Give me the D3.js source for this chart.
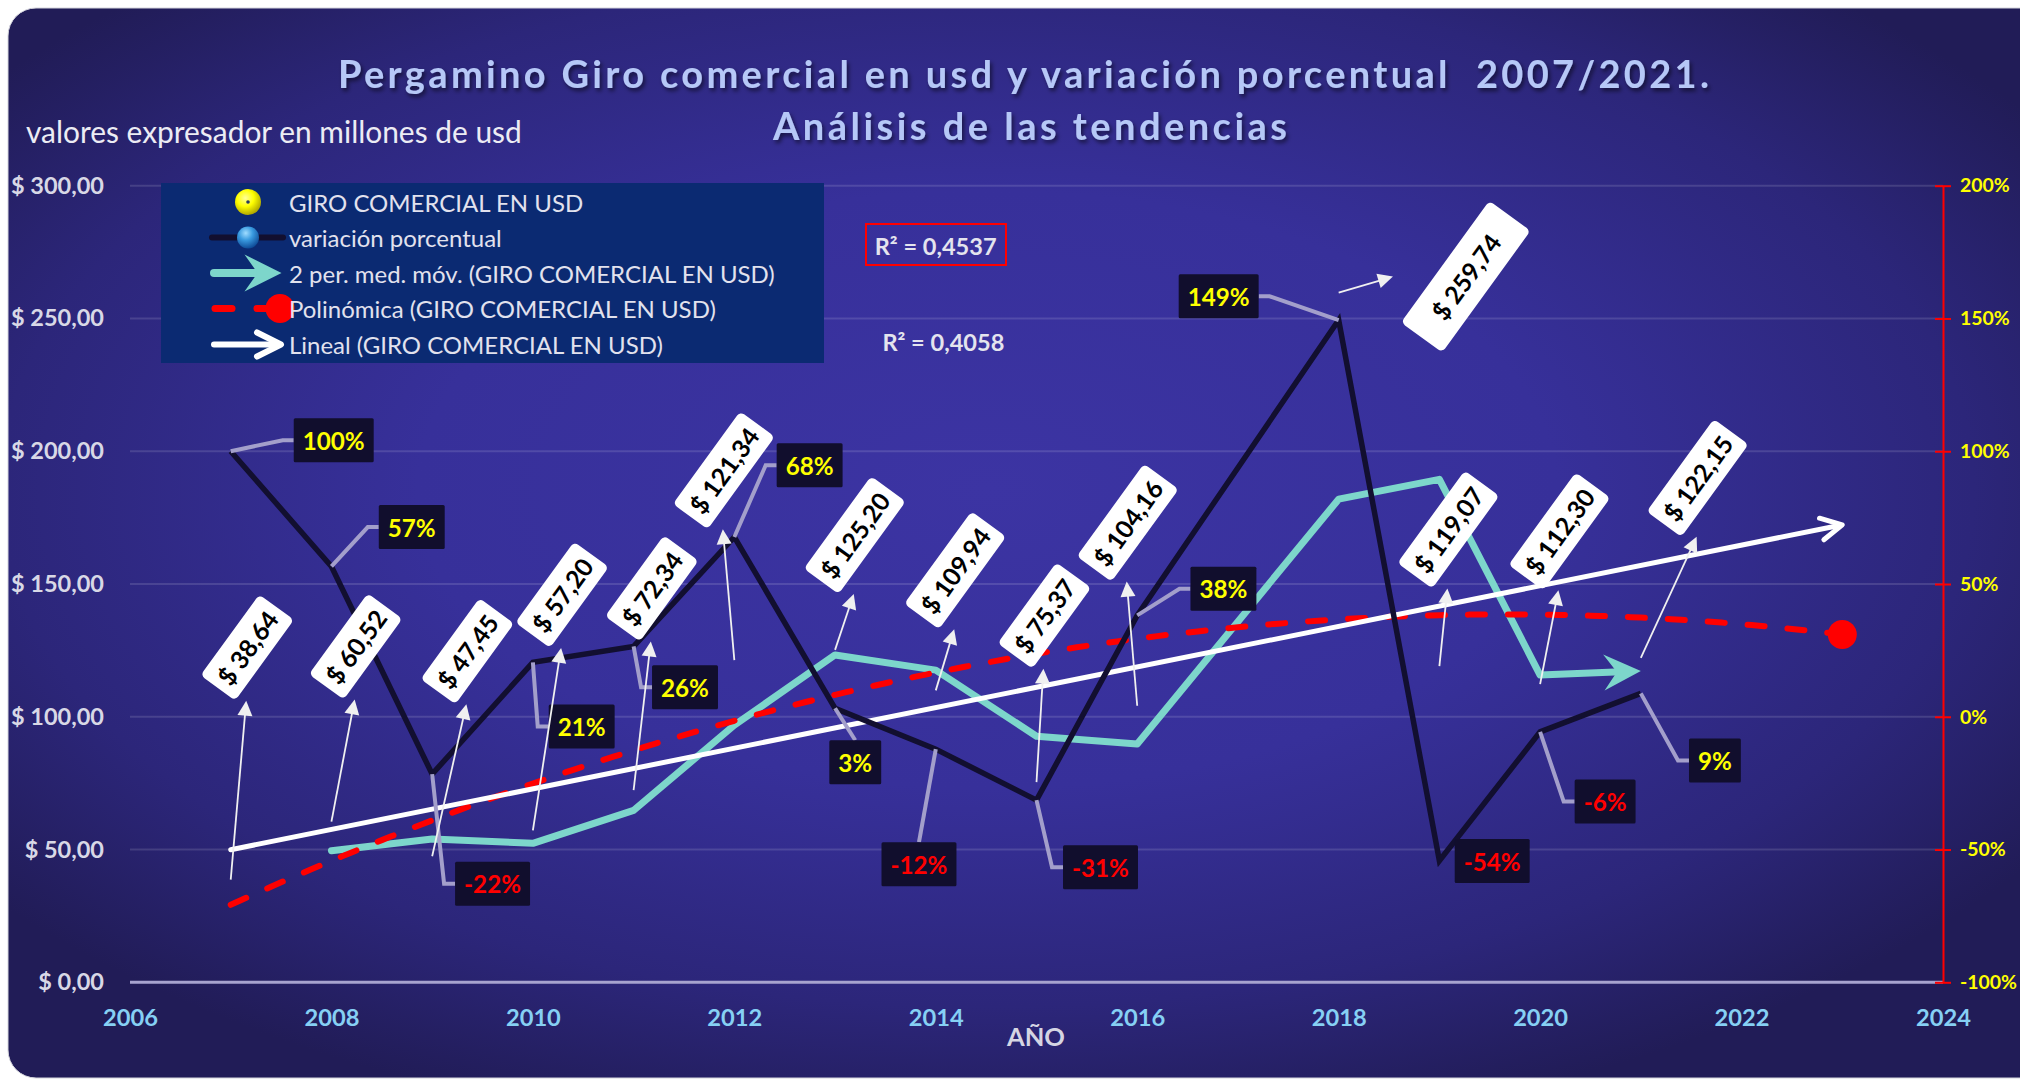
<!DOCTYPE html>
<html><head><meta charset="utf-8">
<script src="https://cdn.jsdelivr.net/npm/d3@7"></script>
<style>
html,body{margin:0;padding:0;background:#ffffff;}
svg{display:block;}
text{font-family:Lato,"Noto Sans",sans-serif;}
</style></head><body>
<svg id="chart" width="2020" height="1080"></svg>
<script>
// ---------------- DATA ----------------
const years = [2007,2008,2009,2010,2011,2012,2013,2014,2015,2016,2018,2019,2020,2021];
const giro = [38.64,60.52,47.45,57.20,72.34,121.34,125.20,109.94,75.37,104.16,259.74,119.07,112.30,122.15];
const variacion = [1.00,0.566,-0.216,0.205,0.2647,0.677,0.032,-0.122,-0.314,0.382,1.494,-0.542,-0.057,0.088];
const xTickValues = [2006,2008,2010,2012,2014,2016,2018,2020,2022,2024];
const yTickValues = [0,50,100,150,200,250,300];
const y2TickValues = [-1,-0.5,0,0.5,1,1.5,2];
const legendItems = ["GIRO COMERCIAL EN USD","variación porcentual","2 per. med. móv. (GIRO COMERCIAL EN USD)","Polinómica (GIRO COMERCIAL EN USD)","Lineal (GIRO COMERCIAL EN USD)"];
const r2Labels = ["R² = 0,4537","R² = 0,4058"];
const titleLines = ["Pergamino Giro comercial en usd y variación porcentual  2007/2021.","Análisis de las tendencias"];
const subtitle = "valores expresador en millones de usd";
const xAxisTitle = "AÑO";
const trendForward = 2;   // trendlines projected 2 periods forward

// ---------------- LAYOUT (label offsets in px from their point) ----------------
const giroLabelOffset = [[16.5,-232.1],[24.2,-175.2],[35.2,-205.1],[29.2,-235.6],[18.2,-201.8],[-10.5,-189.8],[19.7,-114.8],[19.4,-120.1],[7.9,-166.6],[-9.5,-183],[127.1,-16],[9,-136.6],[19.3,-152.8],[56.8,-180]];
const giroLabelPad = [8,8,8,8,8,8,8,8,8,8,26,8,8,8];
const giroLabelH = [43,43,43,43,43,43,43,43,43,43,51,43,43,43];
const pctLabelOffset = [[103,-11],[80.3,-39.4],[60.4,109.7],[48.8,64.1],[51.4,40.7],[75.3,-71.7],[20.2,54],[-16.8,115],[64,67],[86.2,-26.5],[-120,-23.7],[52.8,0.4],[65,69.6],[74.1,67.1]];

const X0=130, X1=1943, Y0=982.3, Y1=185.7;
const svg = d3.select('#chart');
const loc = d3.formatLocale({decimal:",", thousands:".", grouping:[3], currency:["$ ",""], minus:"-"});
const money = loc.format("$,.2f");
const pct = loc.format(".0%");

const x = d3.scaleLinear().domain([2006,2024]).range([X0,X1]);
const y = d3.scaleLinear().domain([0,300]).range([Y0,Y1]);
const y2 = d3.scaleLinear().domain([-1,2]).range([Y0,Y1]);

function fit(sel, target){ const w = sel.node().getComputedTextLength(); const fs = parseFloat(sel.attr('font-size')); const nf = fs*target/w; sel.attr('font-size', nf); return nf; }

// ---------------- DEFS ----------------
const defs = svg.append('defs');
const bg = defs.append('radialGradient').attr('id','bgGrad').attr('cx',0.48).attr('cy',0.45).attr('r',0.62);
[[0,'#3c34a3'],[0.45,'#37309a'],[0.78,'#2c267a'],[1,'#211c57']].forEach(s=>bg.append('stop').attr('offset',s[0]).attr('stop-color',s[1]));
const yb = defs.append('radialGradient').attr('id','yBall').attr('cx',0.4).attr('cy',0.35).attr('r',0.65);
[[0,'#ffff9a'],[0.5,'#ffff00'],[1,'#b0a800']].forEach(s=>yb.append('stop').attr('offset',s[0]).attr('stop-color',s[1]));
const bb = defs.append('radialGradient').attr('id','bBall').attr('cx',0.4).attr('cy',0.3).attr('r',0.7);
[[0,'#9fdcff'],[0.45,'#3a9be0'],[1,'#0f4d99']].forEach(s=>bb.append('stop').attr('offset',s[0]).attr('stop-color',s[1]));
const sh = defs.append('filter').attr('id','tshadow').attr('x','-5%').attr('y','-30%').attr('width','110%').attr('height','160%');
sh.append('feDropShadow').attr('dx',2).attr('dy',3).attr('stdDeviation',2).attr('flood-color','#000').attr('flood-opacity',0.55);

// ---------------- BACKGROUND ----------------
svg.append('rect').attr('x',8).attr('y',8).attr('width',2040).attr('height',1070).attr('rx',28)
  .attr('fill','url(#bgGrad)').attr('stroke','#d4d4dc').attr('stroke-width',1);

// ---------------- TITLE ----------------
svg.append('text').attr('x',338).attr('y',88).text(titleLines[0])
  .style('white-space','pre').attr('font-size',38).attr('font-weight',700).attr('fill','#b6c8f7')
  .attr('textLength',1371).attr('lengthAdjust','spacing').attr('filter','url(#tshadow)');
svg.append('text').attr('x',773).attr('y',140).text(titleLines[1])
  .attr('font-size',38).attr('font-weight',700).attr('fill','#b6c8f7')
  .attr('textLength',514).attr('lengthAdjust','spacing').attr('filter','url(#tshadow)');
const st = svg.append('text').attr('x',26).attr('y',143).text(subtitle).attr('font-size',26).attr('fill','#ececf4');
fit(st,496);

// ---------------- GRID ----------------
svg.append('g').selectAll('line').data(yTickValues.filter(v=>v>0)).join('line')
  .attr('x1',X0).attr('x2',X1).attr('y1',d=>y(d)).attr('y2',d=>y(d))
  .attr('stroke','#ffffff').attr('stroke-opacity',0.13).attr('stroke-width',2);
svg.append('line').attr('x1',X0).attr('x2',X1).attr('y1',y(0)).attr('y2',y(0)).attr('stroke','#a7a3cf').attr('stroke-width',3);

// ---------------- AXES ----------------
const gL = svg.append('g').attr('transform',`translate(${X0},0)`)
  .call(d3.axisLeft(y).tickValues(yTickValues).tickFormat(money).tickSize(0).tickPadding(26));
gL.select('.domain').remove();
gL.selectAll('text').attr('font-family','Lato').attr('font-weight',700).attr('font-size',24).attr('fill','#d8d8e6');
{ const fs = fit(gL.selectAll('text').filter(d=>d===300), 93); gL.selectAll('text').attr('font-size',fs); }

const gR = svg.append('g').attr('transform',`translate(${X1},0)`)
  .call(d3.axisRight(y2).tickValues(y2TickValues).tickFormat(pct).tickSizeInner(8).tickSizeOuter(0).tickPadding(9));
gR.select('.domain').attr('stroke','#ff0000').attr('stroke-width',2);
gR.selectAll('.tick line').attr('x1',-8).attr('stroke','#ff0000').attr('stroke-width',2);
gR.selectAll('text').attr('font-family','Lato').attr('font-weight',700).attr('font-size',22).attr('fill','#ffff00');
{ const fs = fit(gR.selectAll('text').filter(d=>d===-1), 57); gR.selectAll('text').attr('font-size',fs); }

const gB = svg.append('g').attr('transform',`translate(0,${Y0})`)
  .call(d3.axisBottom(x).tickValues(xTickValues).tickFormat(d3.format('d')).tickSize(0));
gB.select('.domain').remove();
gB.selectAll('text').attr('y',35).attr('dy','0.35em').attr('font-family','Lato').attr('font-weight',700).attr('font-size',24).attr('fill','#86d0f4');
{ const fs = fit(gB.selectAll('text').filter(d=>d===2006), 55); gB.selectAll('text').attr('font-size',fs); }
const at = svg.append('text').attr('x',1036).attr('y',1046).attr('text-anchor','middle').text(xAxisTitle)
  .attr('font-size',22).attr('font-weight',700).attr('fill','#d5d5e3');
fit(at,58);

// ---------------- TRENDLINES ----------------
const ma = years.slice(1).map((yr,i)=>[yr,(giro[i]+giro[i+1])/2]);
const n = years.length, mx = d3.mean(years), my = d3.mean(giro);
const sxx = d3.sum(years,v=>(v-mx)*(v-mx)), sxy = d3.sum(years,(v,i)=>(v-mx)*(giro[i]-my));
const slope = sxy/sxx, icpt = my - slope*mx;
const lin = t => icpt + slope*t;
const ts = years.map(v=>v-mx);
const S2=d3.sum(ts,t=>t*t), S3=d3.sum(ts,t=>t*t*t), S4=d3.sum(ts,t=>t**4);
const Sy=d3.sum(giro), Sty=d3.sum(ts,(t,i)=>t*giro[i]), St2y=d3.sum(ts,(t,i)=>t*t*giro[i]);
function solve3(A,B){const M=A.map((r,i)=>[...r,B[i]]);for(let i=0;i<3;i++){let p=i;for(let k=i+1;k<3;k++)if(Math.abs(M[k][i])>Math.abs(M[p][i]))p=k;[M[i],M[p]]=[M[p],M[i]];for(let k=i+1;k<3;k++){const f=M[k][i]/M[i][i];for(let j=i;j<4;j++)M[k][j]-=f*M[i][j];}}const r=[0,0,0];for(let i=2;i>=0;i--){let s=M[i][3];for(let j=i+1;j<3;j++)s-=M[i][j]*r[j];r[i]=s/M[i][i];}return r;}
const [pa,pb,pc] = solve3([[n,0,S2],[0,S2,S3],[S2,S3,S4]],[Sy,Sty,St2y]);
const poly = v => {const t=v-mx; return pa+pb*t+pc*t*t;};
const tStart = years[0], tEnd = years[n-1]+trendForward;

const TEAL='#7dd6cb';
function dirv(a,b){const dx=b[0]-a[0],dy=b[1]-a[1],L=Math.hypot(dx,dy);return [dx/L,dy/L];}
function notched(tip,d,len,half,notch){const bx=tip[0]-d[0]*len,by=tip[1]-d[1]*len;const nx=-d[1],ny=d[0];
  return `M${tip[0]},${tip[1]}L${bx+nx*half},${by+ny*half}L${tip[0]-d[0]*notch},${tip[1]-d[1]*notch}L${bx-nx*half},${by-ny*half}Z`;}
function tri(tip,d,len,half){const bx=tip[0]-d[0]*len,by=tip[1]-d[1]*len;const nx=-d[1],ny=d[0];
  return `M${tip[0]},${tip[1]}L${bx+nx*half},${by+ny*half}L${bx-nx*half},${by-ny*half}Z`;}
function chev(tip,d,len,half){const bx=tip[0]-d[0]*len,by=tip[1]-d[1]*len;const nx=-d[1],ny=d[0];
  return `M${bx+nx*half},${by+ny*half}L${tip[0]},${tip[1]}L${bx-nx*half},${by-ny*half}`;}

const gT = svg.append('g');
{
  const pts = ma.map(d=>[x(d[0]),y(d[1])]);
  const tip = pts[pts.length-1], dd = dirv(pts[pts.length-2],tip);
  const linePts = pts.slice(0,-1).concat([[tip[0]-dd[0]*26,tip[1]-dd[1]*26]]);
  gT.append('path').attr('d',d3.line()(linePts)).attr('fill','none').attr('stroke',TEAL).attr('stroke-width',7).attr('stroke-linecap','round').attr('stroke-linejoin','round');
  gT.append('path').attr('d',notched(tip,dd,37,18,24)).attr('fill',TEAL);
}
{
  const samp = d3.range(tStart, tEnd+0.001, 0.1).map(v=>[x(v),y(poly(v))]);
  gT.append('path').attr('d',d3.line()(samp)).attr('fill','none').attr('stroke','#ff0000').attr('stroke-width',6)
    .attr('stroke-dasharray','17 23').attr('stroke-linecap','round');
  gT.append('circle').attr('cx',x(tEnd)).attr('cy',y(poly(tEnd))).attr('r',14.5).attr('fill','#ff0000');
}
{
  const a=[x(tStart),y(lin(tStart))], b=[x(tEnd),y(lin(tEnd))], dd=dirv(a,b);
  gT.append('line').attr('x1',a[0]).attr('y1',a[1]).attr('x2',b[0]-dd[0]*2).attr('y2',b[1]-dd[1]*2).attr('stroke','#ffffff').attr('stroke-width',5).attr('stroke-linecap','round');
  gT.append('path').attr('d',chev(b,dd,21,11)).attr('fill','none').attr('stroke','#ffffff').attr('stroke-width',5).attr('stroke-linecap','round').attr('stroke-linejoin','round');
}

// ---------------- VARIATION LINE ----------------
svg.append('path').attr('d',d3.line().x((d,i)=>x(years[i])).y(d=>y2(d))(variacion))
  .attr('fill','none').attr('stroke','#120f30').attr('stroke-width',5.5).attr('stroke-linejoin','miter');

// ---------------- PCT LABELS ----------------
const gLead = svg.append('g'), gPct = svg.append('g');
let pctFs = 25;
{ const m = gPct.append('text').attr('font-size',25).attr('font-weight',700).text(pct(1)); pctFs = fit(m,62); m.remove(); }
variacion.forEach((v,i)=>{
  const px=x(years[i]), py=y2(v);
  const cx=px+pctLabelOffset[i][0], cy=py+pctLabelOffset[i][1];
  const g = gPct.append('g');
  const r = g.append('rect');
  const t = g.append('text').attr('x',cx).attr('y',cy).attr('text-anchor','middle').attr('dominant-baseline','central')
    .attr('font-size',pctFs).attr('font-weight',700).attr('fill',v<0?'#ff0000':'#ffff00').text(pct(v));
  const w = t.node().getComputedTextLength()+18, h=44;
  r.attr('x',cx-w/2).attr('y',cy-h/2).attr('width',w).attr('height',h).attr('fill','#110e2d').attr('rx',1.5);
  const L=cx-w/2, R=cx+w/2, T=cy-h/2, B=cy+h/2;
  let d=null;
  if (Math.hypot(Math.max(L-px,0,px-R),Math.max(T-py,0,py-B))<20) d=null;
  else if (px < L-2) d=`M${px},${py}L${L-11},${cy}L${L},${cy}`;
  else if (px > R+2) d=`M${px},${py}L${R+11},${cy}L${R},${cy}`;
  else if (py < T) d=`M${px},${py}L${cx},${T}`;
  else d=`M${px},${py}L${cx},${B}`;
  if (d) gLead.append('path').attr('d',d).attr('fill','none').attr('stroke','#a39fcb').attr('stroke-width',4);
});

// ---------------- GIRO LABELS WITH ARROWS ----------------
const gArr = svg.append('g'), gGiro = svg.append('g');
let giroFs = 25;
{ const m = gGiro.append('text').attr('font-size',25).attr('font-weight',700).text(money(60.52)); giroFs = fit(m,84); m.remove(); }
const ANG = 54, rad = ANG*Math.PI/180;
giro.forEach((v,i)=>{
  const px=x(years[i]), py=y(v);
  const cx=px+giroLabelOffset[i][0], cy=py+giroLabelOffset[i][1];
  const g = gGiro.append('g').attr('transform',`translate(${cx},${cy}) rotate(${-ANG})`);
  const r = g.append('rect');
  const t = g.append('text').attr('x',0).attr('y',0).attr('text-anchor','middle').attr('dominant-baseline','central')
    .attr('font-size',giroFs).attr('font-weight',700).attr('fill','#000000').text(money(v));
  const w = t.node().getComputedTextLength()+2*giroLabelPad[i], h = giroLabelH[i];
  r.attr('x',-w/2).attr('y',-h/2).attr('width',w).attr('height',h).attr('rx',5).attr('fill','#ffffff');
  const hw=(w*Math.cos(rad)+h*Math.sin(rad))/2, hh=(w*Math.sin(rad)+h*Math.cos(rad))/2;
  let tip;
  if (py > cy+hh) tip=[cx-1, cy+hh];
  else if (px < cx-hw) tip=[cx-hw-8, cy];
  else if (px > cx+hw) tip=[cx+hw+8, cy];
  else tip=[cx, cy-hh];
  const dd = dirv([px,py],tip);
  gArr.append('line').attr('x1',px).attr('y1',py).attr('x2',tip[0]-dd[0]*13).attr('y2',tip[1]-dd[1]*13)
    .attr('stroke','#f0f0f0').attr('stroke-width',1.8);
  gArr.append('path').attr('d',tri(tip,dd,15,7.5)).attr('fill','#f0f0f0');
});

// ---------------- LEGEND ----------------
const gLeg = svg.append('g');
gLeg.append('rect').attr('x',161).attr('y',183).attr('width',663).attr('height',180).attr('fill','#0b2a72');
const rowY = [202,237.5,273,308.5,344.5];
gLeg.append('circle').attr('cx',248).attr('cy',rowY[0]).attr('r',13).attr('fill','url(#yBall)');
gLeg.append('circle').attr('cx',248).attr('cy',rowY[0]).attr('r',1.8).attr('fill','#2a3a60');
gLeg.append('line').attr('x1',212).attr('x2',283).attr('y1',rowY[1]).attr('y2',rowY[1]).attr('stroke','#120f30').attr('stroke-width',6).attr('stroke-linecap','round');
gLeg.append('circle').attr('cx',248).attr('cy',rowY[1]).attr('r',11).attr('fill','url(#bBall)');
gLeg.append('line').attr('x1',214).attr('x2',258).attr('y1',rowY[2]).attr('y2',rowY[2]).attr('stroke',TEAL).attr('stroke-width',8).attr('stroke-linecap','round');
gLeg.append('path').attr('d',notched([281.5,rowY[2]],[1,0],37,18.5,24)).attr('fill',TEAL);
gLeg.append('line').attr('x1',215).attr('x2',232).attr('y1',rowY[3]).attr('y2',rowY[3]).attr('stroke','#ff0000').attr('stroke-width',7).attr('stroke-linecap','round');
gLeg.append('line').attr('x1',257).attr('x2',272).attr('y1',rowY[3]).attr('y2',rowY[3]).attr('stroke','#ff0000').attr('stroke-width',7).attr('stroke-linecap','round');
gLeg.append('circle').attr('cx',280).attr('cy',rowY[3]).attr('r',14.5).attr('fill','#ff0000');
gLeg.append('line').attr('x1',214).attr('x2',279).attr('y1',rowY[4]).attr('y2',rowY[4]).attr('stroke','#ffffff').attr('stroke-width',6).attr('stroke-linecap','round');
gLeg.append('path').attr('d',chev([281,rowY[4]],[1,0],24,12)).attr('fill','none').attr('stroke','#ffffff').attr('stroke-width',6).attr('stroke-linecap','round').attr('stroke-linejoin','round');
const legT = gLeg.selectAll('text.lg').data(legendItems).join('text').attr('class','lg')
  .attr('x',289).attr('y',(d,i)=>rowY[i]).attr('dominant-baseline','central')
  .attr('font-size',23).attr('fill','#e2e2ee').text(d=>d);
{ const fs = fit(legT.filter((d,i)=>i===2),486); legT.attr('font-size',fs); }

// ---------------- R² ----------------
svg.append('rect').attr('x',866).attr('y',224).attr('width',140).attr('height',41).attr('fill','none').attr('stroke','#ff0000').attr('stroke-width',2);
const r1 = svg.append('text').attr('x',874.7).attr('y',255).attr('font-size',24).attr('font-weight',700).attr('fill','#e4e4ee').text(r2Labels[0]);
const rfs = fit(r1,122);
svg.append('text').attr('x',882.4).attr('y',351).attr('font-size',rfs).attr('font-weight',700).attr('fill','#e4e4ee').text(r2Labels[1]);
</script>
</body></html>
